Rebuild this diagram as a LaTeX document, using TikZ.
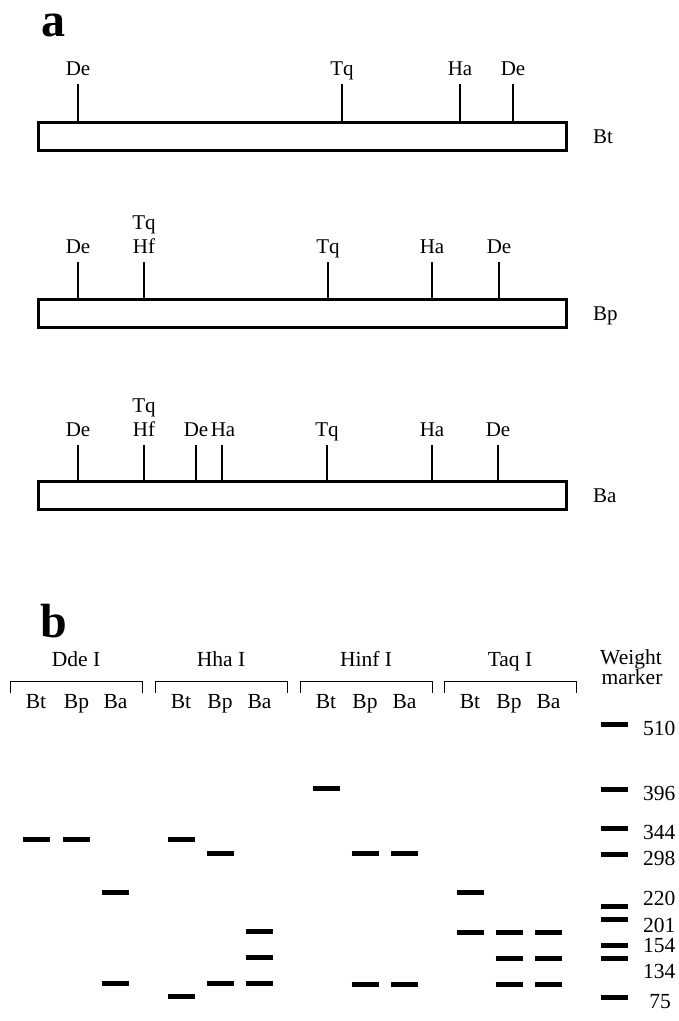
\documentclass[tikz,border=0pt]{standalone}
\usepackage{fontspec}
\setmainfont{Liberation Serif}
\begin{document}
\begin{tikzpicture}[x=1pt,y=-1pt,
  lab/.style={font=\fontsize{21}{23}\selectfont, inner sep=0pt, anchor=base},
  blab/.style={font=\fontsize{21.5}{23}\selectfont, inner sep=0pt, anchor=base},
  panel/.style={font=\fontsize{48}{48}\selectfont\bfseries, inner sep=0pt, anchor=base west, text height=30pt, text depth=0pt},
  site/.style={line width=1.3pt},
  mapbar/.style={draw, line width=3pt, fill=white, minimum width=528pt, minimum height=28pt, inner sep=0pt},
  band/.style={line width=5pt},
  bracket/.style={line width=1pt}]
\useasboundingbox (0,0) rectangle (679,1021);

% ---------------- panel a ----------------
\node[panel] (pa) at (41,36) {a};

% Bt
\node[mapbar] (bt) at (302,136) {};
\node[lab, anchor=base west] (btl) at (593,143) {Bt};
\foreach \x/\t in {78/De, 342/Tq, 460/Ha, 513/De}{
  \draw[site] (\x,84) -- (\x,121);
  \node[lab] at (\x,75) {\t};
}

% Bp
\node[mapbar] (bp) at (302,313) {};
\node[lab, anchor=base west] (bpl) at (593,320) {Bp};
\foreach \x/\t in {78/De, 144/Hf, 328/Tq, 432/Ha, 499/De}{
  \draw[site] (\x,262) -- (\x,298);
  \node[lab] at (\x,253) {\t};
}
\node[lab] (bptq) at (144,229) {Tq};

% Ba
\node[mapbar] (ba) at (302,495) {};
\node[lab, anchor=base west] (bal) at (593,502) {Ba};
\foreach \x/\t in {78/De, 144/Hf, 327/Tq, 432/Ha, 498/De}{
  \draw[site] (\x,445) -- (\x,481);
  \node[lab] at (\x,436) {\t};
}
\draw[site] (196,445) -- (196,481);
\draw[site] (222,445) -- (222,481);
\node[lab] (bade) at (196,436) {De};
\node[lab] (baha) at (223,436) {Ha};
\node[lab] (batq) at (144,412) {Tq};

% ---------------- panel b ----------------
\node[panel] (pb) at (40,637) {b};

\foreach \c/\t in {76/Dde I, 221/Hha I, 366/Hinf I, 510/Taq I}{
  \node[blab] at (\c,666) {\t};
  \draw[bracket] (\c-66,693) |- (\c+66,681) -- (\c+66,693);
}
\node[blab] (wt) at (631,664) {Weight};
\node[blab] (mk) at (632,684) {marker};

\foreach \a/\b/\c in {36/76.5/115.5, 181/220/259.5, 326/365/404.5, 470/509/548.5}{
  \node[blab] at (\a,708) {Bt};
  \node[blab] at (\b,708) {Bp};
  \node[blab] at (\c,708) {Ba};
}

% bands: lane centre / y
\foreach \x/\y in {
  36/839, 76.5/839, 115.5/892, 115.5/983,
  181/839.5, 181/996, 220/853, 220/983.5, 259.5/931, 259.5/957, 259.5/983.5,
  326/788, 365/853.5, 365/984, 404.5/853.5, 404.5/984,
  470/892.5, 470/932, 509/932, 509/958.5, 509/984.5, 548.5/932, 548.5/958.5, 548.5/984.5}{
  \draw[band] (\x-13.5,\y) -- (\x+13.5,\y);
}

% weight marker
\foreach \y in {724, 789, 828, 854, 906, 919, 945.5, 958.5, 997}{
  \draw[band] (601,\y) -- (628,\y);
}
\foreach \y/\t in {735/510, 800/396, 839/344, 865/298, 905/220, 932/201, 952/154, 978/134}{
  \node[blab, anchor=base west] at (643,\y) {\t};
}
\node[blab] (m75) at (660,1008) {75};
\end{tikzpicture}
\end{document}
